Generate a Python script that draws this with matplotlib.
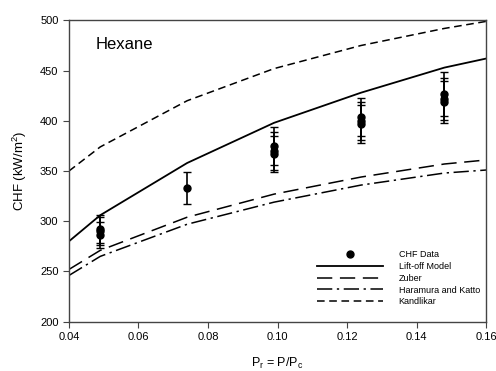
import matplotlib
matplotlib.use("Agg")
import matplotlib.pyplot as plt
from matplotlib.lines import Line2D

plt.rcParams["font.family"] = ["Liberation Sans", "DejaVu Sans"]

# model curves (Pr, CHF in kW/m2)
pr_model = [0.04, 0.049, 0.074, 0.099, 0.124, 0.148, 0.16]
liftoff = [280, 306, 358, 398, 428, 453, 462]
zuber = [252, 271, 304, 327, 344, 357, 361]
haramura = [246, 265, 297, 319, 336, 348, 351]
kandlikar = [350, 374, 420, 452, 475, 492, 499]

# measured CHF data with uncertainty
pr_data = [0.049, 0.049, 0.049, 0.074, 0.099, 0.099, 0.099,
           0.124, 0.124, 0.124, 0.148, 0.148, 0.148]
chf_data = [286, 290, 292, 333, 367, 370, 375, 397, 400, 404, 419, 422, 427]
chf_err = [13, 14, 14, 16, 18, 19, 19, 19, 19, 19, 21, 21, 22]

fig = plt.figure(figsize=(4.96, 3.71), dpi=100)
ax = fig.add_axes([0.139, 0.133, 0.841, 0.812])

ax.errorbar(pr_data, chf_data, yerr=chf_err, fmt="o", color="black", ms=5,
            capsize=3.2, elinewidth=1.2, capthick=1)
ax.plot(pr_model, liftoff, color="black", lw=1.3)
ax.plot(pr_model, zuber, color="black", lw=1.1, dashes=(10, 5))
ax.plot(pr_model, haramura, color="black", lw=1.1, dashes=(10, 3, 1.5, 3))
ax.plot(pr_model, kandlikar, color="black", lw=1.1, dashes=(5, 3))

ax.set_xlim(0.04, 0.16)
ax.set_ylim(200, 500)
ax.set_xticks([0.04, 0.06, 0.08, 0.10, 0.12, 0.14, 0.16])
ax.set_xticklabels(["0.04", "0.06", "0.08", "0.10", "0.12", "0.14", "0.16"])
ax.set_yticks(range(200, 501, 50))
ax.tick_params(direction="out", length=4, labelsize=8, color="#444444")
for s in ax.spines.values():
    s.set_color("#444444")
    s.set_linewidth(1)

ax.set_xlabel(r"P$_\mathregular{r}$ = P/P$_\mathregular{c}$", fontsize=9, labelpad=10)
ax.set_ylabel(r"CHF (kW/m$^\mathregular{2}$)", fontsize=9.5, labelpad=8)
ax.text(0.065, 0.92, "Hexane", transform=ax.transAxes, fontsize=12, va="center")

handles = [
    Line2D([], [], marker="o", ls="none", color="black", ms=5),
    Line2D([], [], color="black", lw=1.3),
    Line2D([], [], color="black", lw=1.1, dashes=(10, 5)),
    Line2D([], [], color="black", lw=1.1, dashes=(10, 3, 1.5, 3)),
    Line2D([], [], color="black", lw=1.1, dashes=(5, 3)),
]
labels = ["CHF Data", "Lift-off Model", "Zuber", "Haramura and Katto", "Kandlikar"]
ax.legend(handles, labels, loc="lower right", frameon=False, fontsize=6.5,
          handlelength=7.3, labelspacing=0.3, borderaxespad=0.3, handletextpad=1.7,
          bbox_to_anchor=(1.0, 0.03))

fig.savefig("out.png", dpi=100)
